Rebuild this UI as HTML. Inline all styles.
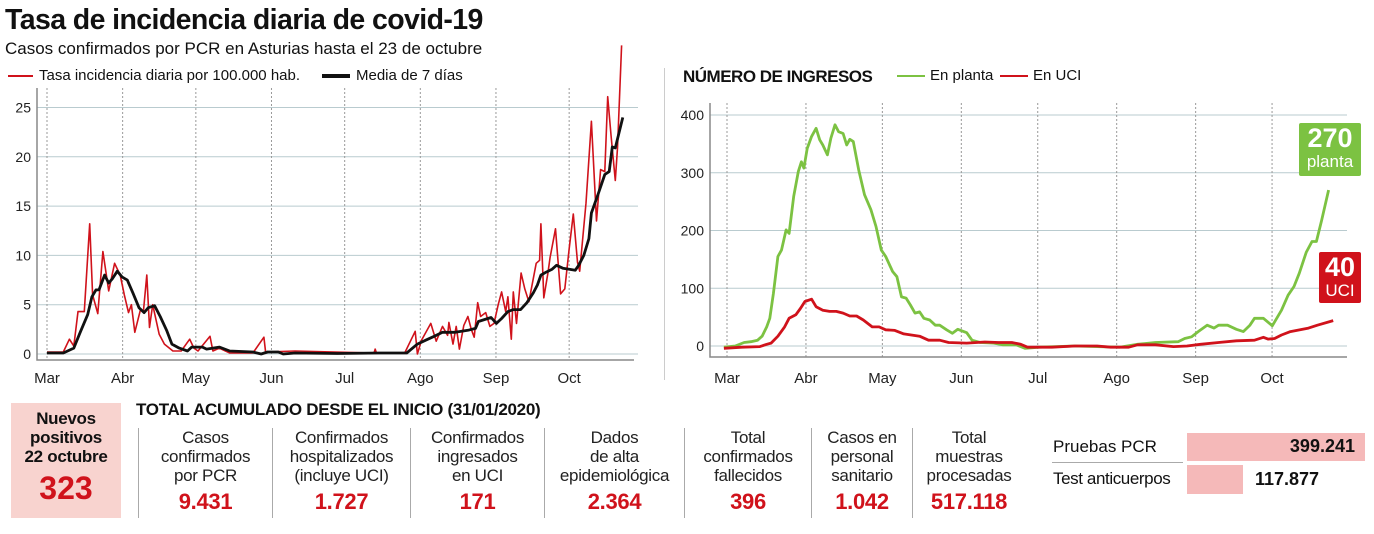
<!DOCTYPE html>
<html><head><meta charset="utf-8">
<style>
body{margin:0;width:1374px;height:534px;background:#fff;overflow:hidden;font-family:"Liberation Sans Narrow","Liberation Sans",sans-serif;color:#111;position:relative}
.a{position:absolute;white-space:nowrap}
.col{position:absolute;top:428px;text-align:center;font-size:17px;line-height:19px;color:#222;letter-spacing:-0.3px}
.col b{display:block;color:#d0121b;font-size:22px;line-height:26px;margin-top:4px;font-family:"Liberation Sans Narrow","Liberation Sans",sans-serif}
.sep{position:absolute;top:428px;width:1px;height:90px;background:#aaa}
</style></head><body>
<div class="a" style="left:5px;top:4px;font-size:28.5px;font-weight:bold;letter-spacing:-0.6px">Tasa de incidencia diaria de covid-19</div>
<div class="a" style="left:5px;top:39px;font-size:17px">Casos confirmados por PCR en Asturias hasta el 23 de octubre</div>
<div class="a" style="left:8px;top:67px;font-size:15px"><span style="display:inline-block;width:25px;height:2px;background:#d0121b;vertical-align:middle;margin-right:6px"></span>Tasa incidencia diaria por 100.000 hab.</div>
<div class="a" style="left:322px;top:67px;font-size:15px"><span style="display:inline-block;width:28px;height:4px;background:#111;vertical-align:middle;margin-right:6px"></span>Media de 7 días</div>
<div class="a" style="left:683px;top:67px;font-size:17px;font-weight:bold;letter-spacing:-0.5px">NÚMERO DE INGRESOS</div>
<div class="a" style="left:897px;top:67px;font-size:15px"><span style="display:inline-block;width:28px;height:2px;background:#7cc242;vertical-align:middle;margin-right:5px"></span>En planta</div>
<div class="a" style="left:1000px;top:67px;font-size:15px"><span style="display:inline-block;width:28px;height:2px;background:#d0121b;vertical-align:middle;margin-right:5px"></span>En UCI</div>
<div class="a" style="left:664px;top:68px;width:1px;height:312px;background:#ccc"></div>

<svg id="c" width="1374" height="534" style="position:absolute;left:0;top:0"></svg>

<div class="a" style="left:1299px;top:123px;width:62px;height:53px;background:#7cc242;color:#fff;text-align:center;border-radius:2px">
<div style="font-size:27px;font-weight:bold;line-height:30px">270</div><div style="font-size:17px;line-height:18px">planta</div></div>
<div class="a" style="left:1319px;top:252px;width:42px;height:51px;background:#d0121b;color:#fff;text-align:center;border-radius:2px">
<div style="font-size:27px;font-weight:bold;line-height:30px">40</div><div style="font-size:17px;line-height:18px">UCI</div></div>

<div class="a" style="left:11px;top:403px;width:110px;height:115px;background:#f8d3cf;text-align:center">
<div style="font-size:17px;font-weight:bold;line-height:19px;margin-top:6px;letter-spacing:-0.3px">Nuevos<br>positivos<br>22 octubre</div>
<div style="font-size:32px;font-weight:bold;color:#d0121b;line-height:40px;margin-top:2px">323</div></div>
<div class="a" style="left:136px;top:400px;font-size:17px;font-weight:bold;letter-spacing:-0.3px">TOTAL ACUMULADO DESDE EL INICIO (31/01/2020)</div>

<div class="sep" style="left:138px"></div>
<div class="col" style="left:139px;width:133px">Casos<br>confirmados<br>por PCR<b>9.431</b></div>
<div class="sep" style="left:272px"></div>
<div class="col" style="left:273px;width:137px">Confirmados<br>hospitalizados<br>(incluye UCI)<b>1.727</b></div>
<div class="sep" style="left:410px"></div>
<div class="col" style="left:411px;width:133px">Confirmados<br>ingresados<br>en UCI<b>171</b></div>
<div class="sep" style="left:544px"></div>
<div class="col" style="left:545px;width:139px">Dados<br>de alta<br>epidemiológica<b>2.364</b></div>
<div class="sep" style="left:684px"></div>
<div class="col" style="left:685px;width:126px">Total<br>confirmados<br>fallecidos<b>396</b></div>
<div class="sep" style="left:811px"></div>
<div class="col" style="left:812px;width:100px">Casos en<br>personal<br>sanitario<b>1.042</b></div>
<div class="sep" style="left:912px"></div>
<div class="col" style="left:913px;width:112px">Total<br>muestras<br>procesadas<b>517.118</b></div>

<div class="a" style="left:1053px;top:437px;font-size:17px">Pruebas PCR</div>
<div class="a" style="left:1052px;top:462px;width:131px;height:1px;background:#aaa"></div>
<div class="a" style="left:1187px;top:433px;width:178px;height:28px;background:#f5b9b9"></div>
<div class="a" style="left:1187px;top:436px;width:168px;text-align:right;font-size:18px;font-weight:bold">399.241</div>
<div class="a" style="left:1053px;top:469px;font-size:17px;letter-spacing:-0.4px">Test anticuerpos</div>
<div class="a" style="left:1187px;top:465px;width:56px;height:29px;background:#f5b9b9"></div>
<div class="a" style="left:1255px;top:469px;font-size:18px;font-weight:bold">117.877</div>

<script>
// Left chart data (day index from 1 March, value per 100.000)
const months=["Mar","Abr","May","Jun","Jul","Ago","Sep","Oct"];
const monthDays=[0,31,61,92,122,153,184,214];
const leftTicks=[0,5,10,15,20,25];
const dailyDays=[0,6.7,9.2,11,12.7,15.3,17.5,18.7,20.8,22.9,25.3,27.7,30,31.7,33.4,34.6,36,38.3,39.5,40.9,42,43.3,46,48.1,51.6,55,58.5,60.2,61.9,66.8,68,70.6,74.9,84.4,88.9,89.6,101.7,134,134.5,135,146.6,150.9,151.8,153.5,157.3,159.5,162.1,164.2,164.7,166.4,167.7,169,170.8,172.5,173.9,175.1,176.5,177.7,179.8,181.5,183.2,184.9,186.3,188,188.9,190.3,191.1,192.4,194.3,195.8,197.5,200.5,201.9,202.4,203.6,205.3,206.2,208.4,210.5,212.2,214,215.7,217.4,218.3,219.6,220.9,223.1,225.2,226.9,228.6,229.8,231.2,232.9,233.8,235.5];
const dailyVals=[0.2,0.2,1.5,0.8,4.3,4.3,13.2,6,4.1,10.4,6.4,9.2,8,6,4.2,5,2.2,4.5,4.3,8,2.7,5,2,1,0.3,0.3,1.5,0.6,0.3,1.8,0.3,0.6,0.1,0.1,1.7,0.2,0.3,0.1,0.5,0.1,0.1,2.3,0,1.4,3.1,1.3,2.8,1.9,3.2,1,2.8,0.5,2.9,3.8,2.5,1.7,5.2,3.8,4.2,2.8,3.1,5,6.3,4.3,5.8,1.5,6.3,3.1,8.2,6.6,5.3,9.2,9.5,13.2,5.7,8.2,9.8,12.7,6.1,6.6,10.7,14.2,9.3,8.4,11.8,15.3,23.6,13.5,18.7,18.5,26.1,22.1,17.6,20.9,31.3];
const avgDays=[0,6.7,11,13.6,16.7,18.4,20.1,21.3,23.6,25.3,26.7,28.8,30.8,32.9,35.2,37.7,39.8,41.5,44.1,46.4,49,51.2,54.2,57.6,59.3,63.7,65.4,70.6,74.9,84.4,87.8,90.4,94.8,96.8,101.7,119,136.2,147.4,151.8,155.2,158.7,162.1,167.3,172.5,175.6,176.8,179.4,182,184.2,186.3,188.9,191.1,194.1,196.7,199.3,201,202.4,204.5,207,208.8,211.4,214,216.5,217.9,220,222.1,223.1,226,228.6,230.4,231.7,232.9,236];
const avgVals=[0.1,0.1,0.6,2.2,4,5.8,6.5,6.5,8,7.2,7.6,8.4,7.8,7.5,6.2,4.7,4.2,4.7,4.9,3.8,2.4,1,0.6,0.3,0.7,0.7,0.5,0.7,0.3,0.2,0,0.2,0.2,0,0.1,0.05,0.1,0.1,1,1.4,1.8,2.2,2.2,2.4,2.6,3.3,3.5,3.7,3.1,3.6,4.3,4.5,4.5,5.2,6.2,7,8,8.3,8.6,9,8.7,8.6,8.5,9,10,11.7,14.3,16.3,18.2,18.5,21,20.9,24];
// Right chart data
const rightTicks=[0,100,200,300,400];
const plantaDays=[-1.2,3.2,6.7,9.4,12,13.8,15.6,16.8,18.2,20,21.4,23.2,24.4,26.2,28,29.2,30.2,31.5,33.2,35,36.4,37.6,39.4,40.8,42.4,43.8,45.6,47,48.2,49.6,51.7,54,56.5,58.5,60.6,62.3,65,66.7,68.5,70.3,72,73.8,75.6,77.3,79.6,81.8,83.5,86.2,88.5,90.6,94.1,96.2,99.4,104.7,108.2,113.5,117,122.4,136.5,154.1,161.2,168.2,177.1,179.7,182.4,185,188.5,191.2,193,196.5,200,202.7,205.3,207.1,210.6,214.1,217.7,220.3,222.6,224.7,227.4,229.7,231.4,233.5,236.2];
const plantaVals=[-2,0,6,7.5,10,17,33,48,91,155,166,201,195,259,302,319,308,342,363,377,357,348,331,360,383,371,368,348,358,354,305,262,236,207,166,155,129,120,85,83,71,57,59,48,45,36,36,28,22,29,23,10,6,5,2,2,-4,-2,0,-2,3,6,7.5,13,16,25,36,31,36,36,29,25,36,48,48,35,62,88,103,126,162,181,181,218,270];
const uciDays=[-1.2,5.9,12.9,15.6,17.3,20,22.6,24.4,27,28.8,30.6,33.2,35,37.6,40.3,42.9,45.6,48.2,50.9,53.5,57,59.7,62.3,65.9,69.4,75.6,79.1,83.5,87,94.1,101.2,106.5,111.8,115.3,118,127.6,136.5,145.3,150.6,157.7,161.2,168.2,175.3,180.6,185.9,193,200,207.1,210.6,212.4,215,217.7,221.2,228.3,231.8,238];
const uciVals=[-4,-2,-1,3,5,17,33,48,54,65,77,81,68,62,60,60,57,52,52,45,33,33,28,27,21,17,10,10,6,5,7,6,6,3,-2,-2,0,0,-2,-2,2,2,-1,0,3,6,9,10,15,12,13,19,25,31,36,44];

const svg=document.getElementById('c');
const NS='http://www.w3.org/2000/svg';
function mk(t,a,p){const e=document.createElementNS(NS,t);for(const k in a)e.setAttribute(k,a[k]);(p||svg).appendChild(e);return e;}
const lx=d=>47+d*2.44, ly=v=>354-v*9.86;
const rx=d=>727+d*2.547, ry=v=>346-v*0.5775;

function axes(xs,ys,ticks,x0,x1,yTop,yBot){
  for(const t of ticks){
    const g=mk('line',{x1:x0,x2:x1,y1:ys(t),y2:ys(t),stroke:'#b9cbcf','stroke-width':1});
    
    
    const tl=mk('text',{x:x0-6,y:ys(t)+5,'text-anchor':'end','font-size':14,fill:'#222','font-family':'Liberation Sans Narrow, Liberation Sans, sans-serif'});
    tl.textContent=t;
    
    
  }
  months.forEach((m,i)=>{
    const x=xs(monthDays[i]);
    const v=mk('line',{x1:x,x2:x,y1:yTop,y2:yBot,stroke:'#999','stroke-width':1,'stroke-dasharray':'2,2'});
    
    
    const ml=mk('text',{x:x,y:383,'text-anchor':'middle','font-size':15,fill:'#222','font-family':'Liberation Sans Narrow, Liberation Sans, sans-serif'});
    ml.textContent=m;
    
    
  });
}
axes(lx,ly,leftTicks,37,638,88,360);
axes(rx,ry,rightTicks,710,1347,103,357);
let ax;
ax=mk('path',{d:'M37,88V360H634',fill:'none',stroke:'#888','stroke-width':1.5});


ax=mk('path',{d:'M710,103V357H1347',fill:'none',stroke:'#888','stroke-width':1.5});



function line(ds,vs,xs,ys,col,w,name){
  const d=ds.map((x,i)=>(i?'L':'M')+xs(x).toFixed(1)+','+ys(vs[i]).toFixed(1)).join('');
  const p=mk('path',{d:d,fill:'none',stroke:col,'stroke-width':w,'stroke-linejoin':'round'});
  
  
}
line(dailyDays,dailyVals,lx,ly,'#d0121b',1.6,'daily-rate-line');
line(avgDays,avgVals,lx,ly,'#111',2.8,'seven-day-average-line');
line(plantaDays,plantaVals,rx,ry,'#7cc242',2.8,'planta-line');
line(uciDays,uciVals,rx,ry,'#d0121b',2.8,'uci-line');
</script>
</body></html>
